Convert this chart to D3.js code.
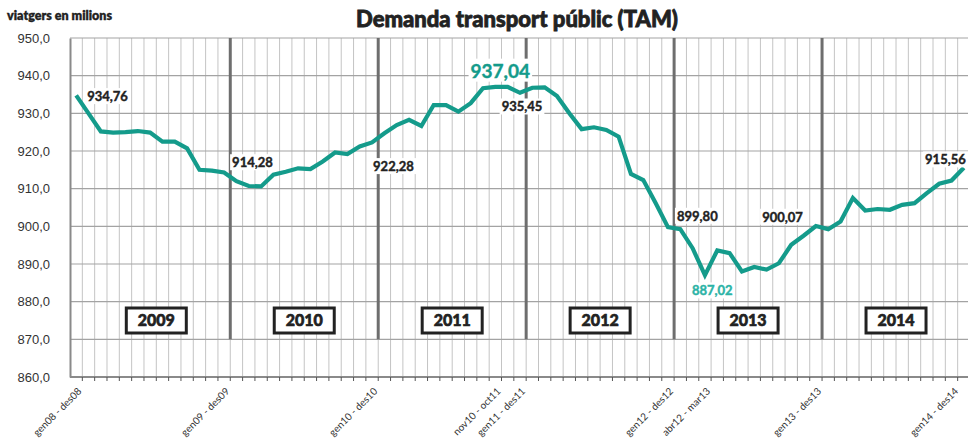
<!DOCTYPE html>
<html>
<head>
<meta charset="utf-8">
<script src="https://cdn.jsdelivr.net/npm/d3@7"></script>
<style>
  body { margin: 0; background: #fff; }
  svg { display: block; font-family: Lato, "Open Sans", sans-serif; }
  .ytick text { fill: #333; font-size: 13px; }
  .xtick text { fill: #333; font-size: 10px; }
  .ann { font-weight: 700; font-size: 13px; fill: #222; }
</style>
</head>
<body>
<div id="chart"></div>
<script>
"use strict";

// TAM (12-month moving total), millions of passengers, gen08-des08 .. gen14-des14
const values = [
  934.76, 930.0, 925.2, 924.9, 925.0, 925.3, 924.9, 922.5, 922.5, 920.7, 915.0, 914.8, 914.28,
  912.0, 910.7, 910.6, 913.7, 914.5, 915.4, 915.2, 917.2, 919.6, 919.2, 921.2, 922.28,
  924.7, 926.9, 928.25, 926.65, 932.2, 932.2, 930.45, 932.7, 936.65, 937.04, 937.0, 935.45,
  936.8, 936.9, 934.6, 930.0, 925.8, 926.3, 925.6, 923.8, 913.9, 912.3, 906.2, 899.80,
  899.25, 894.2, 887.02, 893.6, 892.9, 888.0, 889.2, 888.5, 890.2, 895.1, 897.5, 900.07,
  899.25, 901.3, 907.5, 904.2, 904.6, 904.4, 905.7, 906.15, 908.8, 911.3, 912.15, 915.56
];

const tickIdx = [0, 12, 24, 34, 36, 48, 51, 60, 72];
const tickLabels = [
  "gen08 - des08", "gen09 - des09", "gen10 - des10", "nov10 - oct11", "gen11 - des11",
  "gen12 - des12", "abr12 - mar13", "gen13 - des13", "gen14 - des14"
];

const years = ["2009", "2010", "2011", "2012", "2013", "2014"];
const yTicks = [860, 870, 880, 890, 900, 910, 920, 930, 940, 950];

// points that carry a value label; max and min are highlighted
const annIdx = [0, 12, 24, 34, 36, 48, 51, 60, 72];
const highlightIdx = [34, 51];

const width = 968, height = 439;
const margin = { top: 38, right: -2, bottom: 62, left: 70 };
const teal = "#149b8b";

const svg = d3.select("#chart").append("svg")
  .attr("width", width)
  .attr("height", height);

const x = d3.scaleBand()
  .domain(d3.range(values.length))
  .range([margin.left, width - margin.right]);

const y = d3.scaleLinear()
  .domain([860, 950])
  .range([height - margin.bottom, margin.top]);

const cx = (i) => x(i) + x.bandwidth() / 2;

// vertical gridlines on category boundaries
const bounds = d3.range(1, values.length + 1).map((i) => margin.left + i * x.step());
svg.append("g")
  .selectAll("line")
  .data(bounds)
  .join("line")
  .attr("x1", (d) => d)
  .attr("x2", (d) => d)
  .attr("y1", y(950))
  .attr("y2", y(860))
  .attr("stroke", "#c4c4c4")
  .attr("stroke-width", 1);

// horizontal gridlines
svg.append("g")
  .selectAll("line")
  .data(yTicks)
  .join("line")
  .attr("x1", margin.left)
  .attr("x2", width)
  .attr("y1", (d) => y(d))
  .attr("y2", (d) => y(d))
  .attr("stroke", "#a3a3a3")
  .attr("stroke-width", 1.2);

// year separators
const sepIdx = d3.range(1, years.length).map((k) => 1 + 12 * k);
svg.append("g")
  .selectAll("line")
  .data(sepIdx)
  .join("line")
  .attr("x1", (i) => x(i))
  .attr("x2", (i) => x(i))
  .attr("y1", y(950))
  .attr("y2", y(870))
  .attr("stroke", "#6e6e6e")
  .attr("stroke-width", 3);

// y axis
const yAxis = d3.axisLeft(y)
  .tickValues(yTicks)
  .tickSize(0)
  .tickPadding(20)
  .tickFormat((d) => d3.format(".1f")(d).replace(".", ","));
svg.append("g")
  .attr("class", "ytick")
  .attr("transform", `translate(${margin.left},0)`)
  .call(yAxis)
  .call((g) => g.select(".domain").attr("stroke", "#8a8a8a").attr("stroke-width", 2));

// x axis: ticks on boundaries, labels only on selected categories
const xAxisG = svg.append("g")
  .attr("transform", `translate(0,${y(860)})`);
xAxisG.append("line")
  .attr("x1", margin.left)
  .attr("x2", width)
  .attr("stroke", "#8a8a8a")
  .attr("stroke-width", 2);
xAxisG.selectAll(".tk")
  .data(bounds)
  .join("line")
  .attr("class", "tk")
  .attr("x1", (d) => d)
  .attr("x2", (d) => d)
  .attr("y1", 0)
  .attr("y2", 4)
  .attr("stroke", "#555");
xAxisG.append("g")
  .attr("class", "xtick")
  .selectAll("text")
  .data(tickIdx)
  .join("text")
  // last label is pulled inside the frame, as the original does
  .attr("transform", (i) => `translate(${Math.min(cx(i) + 1, 954)},${10}) rotate(-45)`)
  .attr("text-anchor", "end")
  .attr("dy", "0.7em")
  .text((d, k) => tickLabels[k]);

// year boxes
const boxes = svg.append("g")
  .selectAll("g")
  .data(years)
  .join("g")
  .attr("transform", (d, k) => {
    const x0 = x(1 + 12 * k);
    const x1 = x(1 + 12 * k) + 12 * x.step();
    return `translate(${(x0 + x1) / 2},${y(875)})`;
  });
boxes.append("rect")
  .attr("x", -30)
  .attr("y", -12.5)
  .attr("width", 60)
  .attr("height", 25)
  .attr("fill", "#fff")
  .attr("stroke", "#222")
  .attr("stroke-width", 3);
boxes.append("text")
  .attr("text-anchor", "middle")
  .attr("dy", "0.36em")
  .attr("font-size", 16)
  .attr("font-weight", 900)
  .attr("fill", "#222")
  .attr("stroke", "#222")
  .attr("stroke-width", 0.6)
  .text((d) => d);

// data line
const line = d3.line()
  .x((d, i) => cx(i))
  .y((d) => y(d));
svg.append("path")
  .datum(values)
  .attr("fill", "none")
  .attr("stroke", teal)
  .attr("stroke-width", 4.2)
  .attr("stroke-linejoin", "miter")
  .attr("d", line);

// value labels
const annPos = {
  0: { dx: 11, dy: 1, anchor: "start" },
  12: { dx: 8, dy: -10, anchor: "start" },
  24: { dx: 1, dy: 24, anchor: "start" },
  34: { dx: 5, dy: -16, anchor: "middle" },
  36: { dx: 2, dy: 14, anchor: "middle" },
  48: { dx: 9, dy: -11, anchor: "start" },
  51: { dx: -13, dy: 15.5, anchor: "start" },
  60: { dx: -13, dy: -9, anchor: "end" },
  72: { dx: 2, dy: -8, anchor: "end" },
};
const fmt = (v) => d3.format(".2f")(v).replace(".", ",");
const annG = svg.append("g");
annIdx.forEach((i) => {
  const p = annPos[i];
  const hi = highlightIdx.includes(i);
  const col = hi ? (i === 34 ? teal : "#2bb3a6") : "#222";
  const g = annG.append("g");
  const t = g.append("text")
    .attr("class", "ann")
    .attr("x", cx(i) + p.dx)
    .attr("y", y(values[i]) + p.dy)
    .attr("dy", "0.36em")
    .attr("text-anchor", p.anchor)
    .style("fill", col)
    .style("stroke", col)
    .style("stroke-width", 0.4)
    .style("font-size", i === 34 ? "19px" : "13px")
    .text(fmt(values[i]));
  const b = t.node().getBBox();
  g.insert("rect", "text")
    .attr("x", b.x - 2)
    .attr("y", b.y)
    .attr("width", b.width + 4)
    .attr("height", b.height)
    .attr("fill", "#fff");
});

// titles
svg.append("text")
  .attr("x", 517)
  .attr("y", 27)
  .attr("text-anchor", "middle")
  .attr("font-size", 22)
  .attr("font-weight", 900)
  .attr("fill", "#222")
  .attr("stroke", "#222")
  .attr("stroke-width", 0.8)
  .text("Demanda transport públic (TAM)");

svg.append("text")
  .attr("x", 7)
  .attr("y", 20)
  .attr("font-size", 12.5)
  .attr("font-weight", 800)
  .attr("fill", "#222")
  .attr("stroke", "#222")
  .attr("stroke-width", 0.3)
  .text("viatgers en milions");
</script>
</body>
</html>
